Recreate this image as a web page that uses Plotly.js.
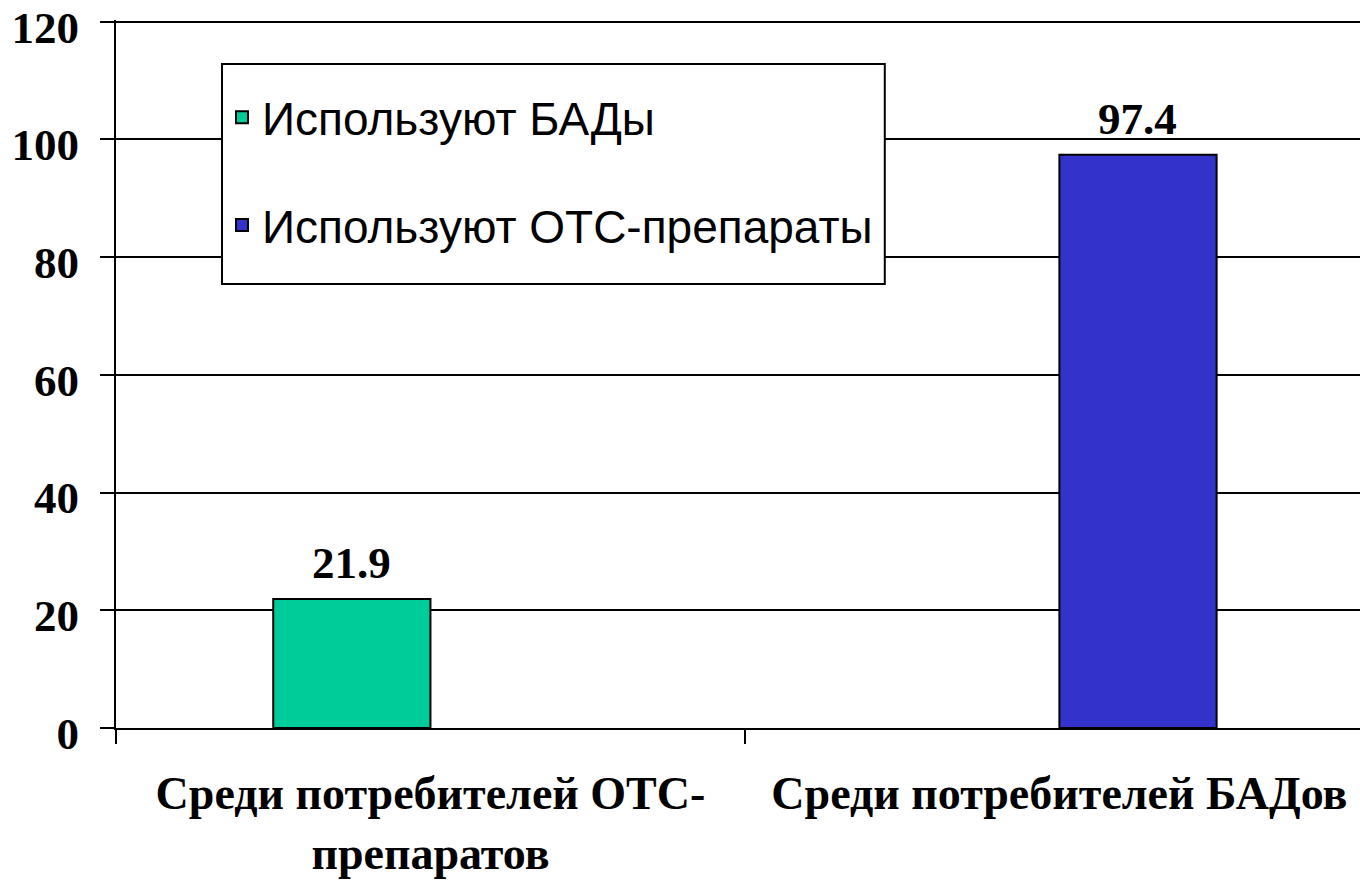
<!DOCTYPE html>
<html>
<head>
<meta charset="utf-8">
<script src="https://cdn.plot.ly/plotly-3.0.1.min.js"></script>
<style>
  html, body { margin: 0; padding: 0; background: #fff; }
  #chart { width: 1360px; height: 882px; }
</style>
</head>
<body>
<div id="chart"></div>
<script>
// data
const categories = ['Среди потребителей ОТС-<br>препаратов', 'Среди потребителей БАДов'];
const seriesNames = ['Используют БАДы', 'Используют ОТС-препараты'];
const badValues = [21.9, null];
const otcValues = [null, 97.4];
const seriesColors = ['#00CC99', '#3333CC'];
const yTicks = [0, 20, 40, 60, 80, 100, 120];

const barWidth = 0.25;
const offsets = [-0.25, 0];

const serif = 'Liberation Serif, Times New Roman, serif';
const sans = 'Liberation Sans, Arial, sans-serif';

function makeBar(i, values) {
  return {
    type: 'bar',
    name: seriesNames[i],
    legendgroup: 'g' + i,
    x: categories,
    y: values,
    width: barWidth,
    offset: offsets[i],
    marker: { color: seriesColors[i], line: { color: '#000', width: 2 } },
    hoverinfo: 'none'
  };
}

const data = [makeBar(0, badValues), makeBar(1, otcValues)];

// value labels above the bars
const annotations = [];
[badValues, otcValues].forEach(function (vals, i) {
  vals.forEach(function (v, j) {
    if (v === null) return;
    annotations.push({
      xref: 'x', yref: 'y',
      x: j + offsets[i] + barWidth / 2,
      y: v,
      text: v.toFixed(1),
      showarrow: false,
      yanchor: 'bottom',
      yshift: 9,
      font: { family: serif, size: 45, color: '#000', weight: 'bold' }
    });
  });
});

const layout = {
  width: 1360,
  height: 882,
  margin: { l: 116, r: 0, t: 20, b: 154 },
  paper_bgcolor: '#fff',
  plot_bgcolor: '#fff',
  showlegend: true,
  xaxis: {
    type: 'category',
    range: [-0.5, 1.478],
    tickson: 'boundaries',
    ticks: 'outside',
    ticklen: 14,
    tickwidth: 2,
    tickcolor: '#000',
    showline: true,
    linecolor: '#000',
    linewidth: 2,
    showgrid: false,
    ticklabelstandoff: 24,
    tickfont: { family: serif, size: 46, color: '#000', weight: 'bold' }
  },
  yaxis: {
    range: [0, 120.3],
    tickmode: 'array',
    tickvals: yTicks,
    showgrid: true,
    gridcolor: '#000',
    gridwidth: 2,
    zeroline: false,
    showline: true,
    linecolor: '#000',
    linewidth: 2,
    ticks: 'outside',
    ticklen: 14,
    tickwidth: 2,
    tickcolor: '#000',
    ticklabelstandoff: 12,
    ticklabelshift: 5,
    ticklabeloverflow: 'allow',
    tickfont: { family: serif, size: 45, color: '#000', weight: 'bold' }
  },
  legend: {
    x: 0.0852, y: 0.914,
    xanchor: 'left', yanchor: 'top',
    bgcolor: 'rgba(0,0,0,0)',
    borderwidth: 0,
    traceorder: 'grouped',
    tracegroupgap: 45,
    font: { family: sans, size: 46, color: '#000' }
  },
  shapes: [{
    type: 'rect', xref: 'paper', yref: 'paper',
    x0: 0.0852, x1: 0.618, y0: 0.627, y1: 0.938,
    line: { color: '#000', width: 2 },
    fillcolor: '#fff',
    layer: 'above'
  }],
  annotations: annotations
};

Plotly.newPlot('chart', data, layout, { staticPlot: true });
</script>
</body>
</html>
